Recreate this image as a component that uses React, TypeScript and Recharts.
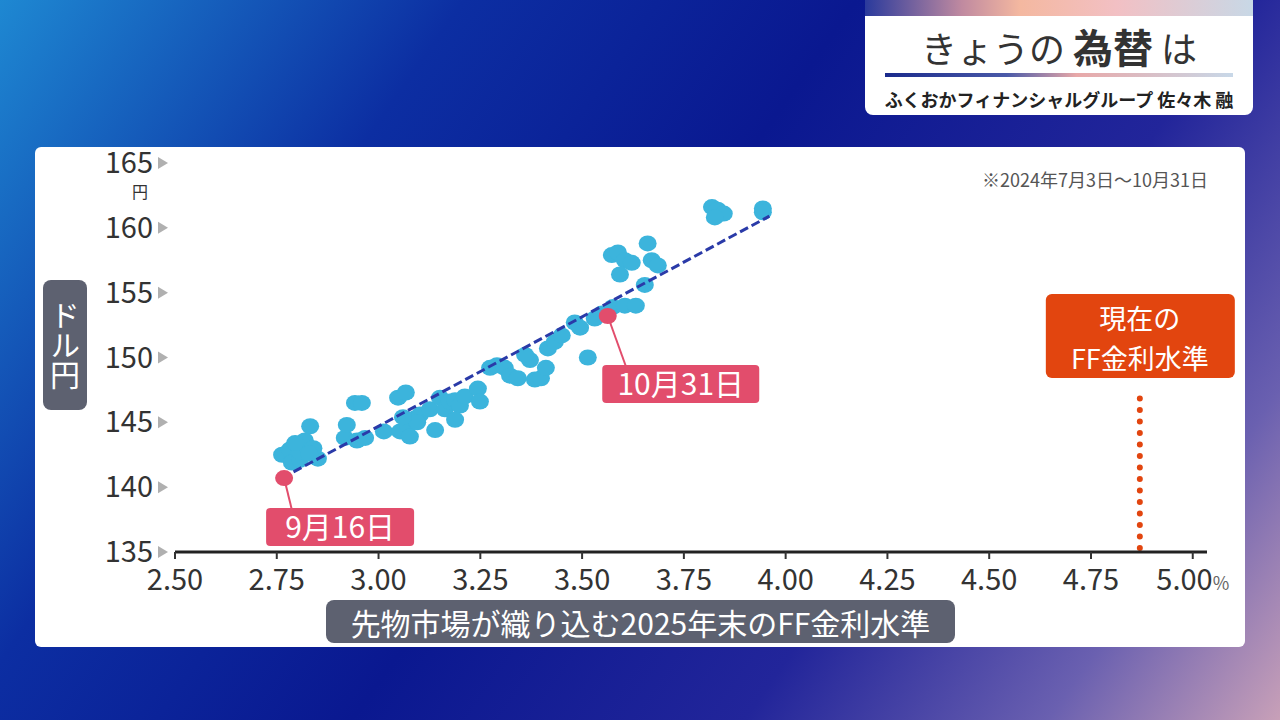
import { ScatterChart, Scatter, XAxis, YAxis, ReferenceLine, ReferenceDot } from "recharts";

// market-implied FF rate at end-2025 (%) vs USD/JPY, 2024/7/3 - 10/31
const fedRate = [
  2.763, 2.782, 2.802, 2.819, 2.832, 2.787, 2.807, 2.851, 2.807, 2.917,
  2.942, 2.959, 2.922, 2.947, 2.967, 3.013, 3.048, 3.067, 3.053, 3.072,
  3.077, 3.089, 3.102, 3.126, 3.139, 3.151, 3.163, 3.175, 3.188, 3.2,
  3.212, 3.188, 3.244, 3.249, 3.274, 3.291, 3.31, 3.323, 3.342, 3.372,
  3.384, 3.399, 3.411, 3.36, 3.416, 3.433, 3.45, 3.482, 3.495, 3.514,
  3.531, 3.549, 3.576, 3.605, 3.632, 3.573, 3.588, 3.605, 3.622, 3.593,
  3.661, 3.671, 3.686, 3.654, 3.819, 3.833, 3.848, 3.826, 3.944, 3.944,
  2.795, 2.84, 2.83, 3.095, 3.06,
];
const usdJpy = [
  142.5, 142.9, 143.2, 143.6, 144.7, 141.9, 142.1, 142.2, 142.7, 143.8,
  146.5, 146.5, 144.8, 143.6, 143.8, 144.3, 146.9, 147.3, 144.3, 144.8,
  143.9, 145.3, 145.6, 146.0, 144.4, 146.9, 146.0, 146.6, 146.7, 146.3,
  147.0, 145.2, 147.6, 146.6, 149.2, 149.4, 149.2, 148.6, 148.4, 149.8,
  148.3, 148.4, 149.2, 150.2, 150.7, 151.2, 151.7, 152.7, 152.3, 150.0,
  153.0, 153.4, 153.9, 154.0, 154.0, 157.9, 158.1, 157.5, 157.3, 156.4,
  158.8, 157.5, 157.1, 155.6, 161.6, 161.4, 161.1, 160.8, 161.5, 161.2,
  143.4, 143.0, 142.6, 145.0, 145.4,
];

const highlightLabels = ["9月16日", "10月31日"];
const highlightRate = [2.768, 3.563];
const highlightYen = [140.7, 153.2];

const trendRate = [2.763, 3.96];
const trendYen = [140.7, 160.9];

const currentFfRate = 4.87;

const xTicks = [2.5, 2.75, 3.0, 3.25, 3.5, 3.75, 4.0, 4.25, 4.5, 4.75, 5.0];
const yTicks = [135, 140, 145, 150, 155, 160, 165];

const points = fedRate.map((x, i) => ({ x, y: usdJpy[i] }));
const highlights = highlightRate.map((x, i) => ({ x, y: highlightYen[i], label: highlightLabels[i] }));
const trend = trendRate.map((x, i) => ({ x, y: trendYen[i] }));

const FONT = "'Noto Sans CJK JP', 'Noto Sans', sans-serif";
const BLUE = "#3cb4dc";
const RED = "#e24d6c";
const ORANGE = "#e2450f";

// label box offsets from the dot, in px
const labelBox: Record<string, { dx: number; dy: number; w: number }> = {
  "9月16日": { dx: 56, dy: 49, w: 148 },
  "10月31日": { dx: 73, dy: 68, w: 157 },
};

const XTick = (props: any) => {
  const { x, y, payload } = props;
  const v = Number(payload.value);
  const last = v === 5;
  return (
    <text x={x} y={y} dy={29} textAnchor="middle" fill="#333" fontSize={29} fontFamily={FONT}>
      {v.toFixed(2)}
      {last && <tspan fontSize={18} fill="#666">%</tspan>}
    </text>
  );
};

const YTick = (props: any) => {
  const { x, y, payload } = props;
  return (
    <g>
      <text x={x - 22} y={y} dy={10} textAnchor="end" fill="#333" fontSize={29} fontFamily={FONT}>
        {payload.value}
      </text>
      <polygon points={`${x - 17},${y - 6} ${x - 17},${y + 6} ${x - 7},${y}`} fill="#b0b0b0" />
      {payload.value === 165 && (
        <text x={x - 35} y={y + 35} textAnchor="middle" fill="#333" fontSize={16} fontFamily={FONT}>
          円
        </text>
      )}
    </g>
  );
};

const Dot = (props: any) => {
  const { cx, cy } = props;
  return <ellipse cx={cx} cy={cy} rx={9} ry={8} fill={BLUE} />;
};

const NoDot = () => null;

const HighlightDot = (props: any) => {
  const { cx, cy, payload } = props;
  const b = labelBox[payload.label];
  const bx = cx + b.dx;
  const by = cy + b.dy;
  return (
    <g>
      <line x1={cx} y1={cy} x2={bx - b.w / 2 + 30} y2={by} stroke={RED} strokeWidth={2} />
      <ellipse cx={cx} cy={cy} rx={9} ry={8} fill={RED} />
      <rect x={bx - b.w / 2} y={by - 19} width={b.w} height={38} rx={4} fill={RED} />
      <text x={bx} y={by} dy={11} textAnchor="middle" fill="#fff" fontSize={30} fontFamily={FONT}>
        {payload.label}
      </text>
    </g>
  );
};

const FfBox = (props: any) => {
  const { cx, cy } = props;
  return (
    <g>
      <rect x={cx - 94} y={cy - 42} width={189} height={84} rx={6} fill={ORANGE} />
      <text x={cx} y={cy - 7} textAnchor="middle" fill="#fff" fontSize={27} fontFamily={FONT}>
        <tspan x={cx}>現在の</tspan>
        <tspan x={cx} dy={40}>FF金利水準</tspan>
      </text>
    </g>
  );
};

export default function App() {
  return (
    <div
      style={{
        position: "fixed",
        left: 0,
        top: 0,
        width: 1280,
        height: 720,
        overflow: "hidden",
        fontFamily: FONT,
        background:
          "linear-gradient(125deg, #1e88d2 0%, #0c2ea2 26%, #0a1890 48%, #22259a 70%, #6a60b0 87%, #c8a0b8 100%)",
      }}
    >
      {/* title box */}
      <div
        style={{
          position: "absolute",
          left: 865,
          top: 0,
          width: 388,
          height: 115,
          background: "#fff",
          borderRadius: "0 0 8px 8px",
          overflow: "hidden",
        }}
      >
        <div
          style={{
            height: 16,
            background: "linear-gradient(90deg, #2a3a9c 0%, #c08aa0 25%, #f4b8a0 40%, #f2c0c4 65%, #c8d8e6 100%)",
          }}
        />
        <div style={{ position: "absolute", top: 23, width: "100%", textAlign: "center", color: "#333", fontSize: 36, lineHeight: "46px" }}>
          きょうの <span style={{ fontWeight: 700, fontSize: 40 }}>為替</span> は
        </div>
        <div
          style={{
            position: "absolute",
            left: 20,
            top: 73,
            width: 348,
            height: 4,
            background: "linear-gradient(90deg, #1a2a8c 0%, #4a5aa8 35%, #e8a8a8 55%, #c8d8e8 100%)",
          }}
        />
        <div style={{ position: "absolute", top: 86, width: "100%", textAlign: "center", color: "#222", fontSize: 18, fontWeight: 700, lineHeight: "26px" }}>
          ふくおかフィナンシャルグループ 佐々木 融
        </div>
      </div>

      {/* chart card */}
      <div style={{ position: "absolute", left: 35, top: 147, width: 1210, height: 500, background: "#fff", borderRadius: 6 }}>
        <div style={{ position: "absolute", left: 0, top: -20 }}>
          <ScatterChart width={1210} height={520} margin={{ top: 36, right: 38, left: 0, bottom: 0 }}>
            <XAxis
              type="number"
              dataKey="x"
              domain={[2.5, 5.035]}
              ticks={xTicks}
              allowDataOverflow
              axisLine={{ stroke: "#222", strokeWidth: 3 }}
              tickLine={{ stroke: "#333", strokeWidth: 2 }}
              tickSize={7}
              tickMargin={2}
              height={95}
              tick={<XTick />}
            />
            <YAxis
              type="number"
              dataKey="y"
              domain={[135, 165]}
              ticks={yTicks}
              allowDataOverflow
              axisLine={false}
              tickLine={false}
              tickSize={0}
              tickMargin={0}
              width={140}
              tick={<YTick />}
            />
            <ReferenceLine
              segment={[
                { x: currentFfRate, y: 135.3 },
                { x: currentFfRate, y: 147.0 },
              ]}
              stroke={ORANGE}
              strokeWidth={6}
              strokeDasharray="0 11.5"
              strokeLinecap="round"
            />
            <ReferenceDot x={currentFfRate} y={151.65} r={0} shape={<FfBox />} />
            <Scatter data={points} shape={<Dot />} isAnimationActive={false} />
            <Scatter
              data={trend}
              shape={<NoDot />}
              line={{ stroke: "#2a3aa8", strokeWidth: 3, strokeDasharray: "9 4" }}
              isAnimationActive={false}
            />
            <Scatter data={highlights} shape={<HighlightDot />} isAnimationActive={false} />
          </ScatterChart>
        </div>

        <div
          style={{
            position: "absolute",
            right: 37,
            top: 19,
            fontSize: 18,
            color: "#555",
            fontFamily: "'Noto Sans CJK JP', sans-serif",
          }}
        >
          ※2024年7月3日〜10月31日
        </div>

        <div
          style={{
            position: "absolute",
            left: 8,
            top: 133,
            width: 44,
            height: 130,
            background: "#5d6170",
            borderRadius: 8,
            color: "#fff",
            fontSize: 30,
            writingMode: "vertical-rl",
            display: "flex",
            alignItems: "center",
            justifyContent: "center",
          }}
        >
          ドル円
        </div>

        <div
          style={{
            position: "absolute",
            left: 291,
            top: 453,
            width: 629,
            height: 43,
            background: "#5d6170",
            borderRadius: 8,
            color: "#fff",
            fontSize: 30,
            display: "flex",
            alignItems: "center",
            justifyContent: "center",
          }}
        >
          先物市場が織り込む2025年末のFF金利水準
        </div>
      </div>
    </div>
  );
}
